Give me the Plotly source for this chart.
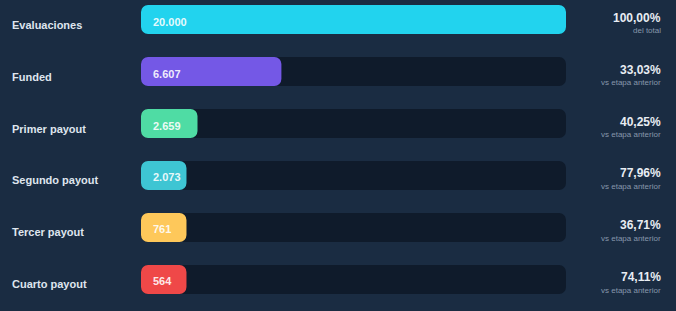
import plotly.graph_objects as go

stages = ["Evaluaciones", "Funded", "Primer payout", "Segundo payout", "Tercer payout", "Cuarto payout"]
values = [20000, 6607, 2659, 2073, 761, 564]
value_labels = ["20.000", "6.607", "2.659", "2.073", "761", "564"]
pct_labels = ["100,00%", "33,03%", "40,25%", "77,96%", "36,71%", "74,11%"]
pct_sub = ["del total", "vs etapa anterior", "vs etapa anterior", "vs etapa anterior", "vs etapa anterior", "vs etapa anterior"]
colors = ["#22d3ee", "#7458e6", "#4fdca4", "#3ec5d3", "#fec85a", "#ef4848"]

BG = "#1a2c42"
TRACK = "#0f1b2b"
FONT = "Liberation Sans, Arial, sans-serif"

total = max(values)
min_frac = 0.107
display = [max(v, total * min_frac) for v in values]

fig = go.Figure()
fig.add_trace(go.Bar(
    y=stages, x=[total] * len(stages), base=[0] * len(stages), orientation="h",
    marker=dict(color=TRACK, line=dict(width=0)), width=0.56,
    hoverinfo="skip", showlegend=False,
))
fig.add_trace(go.Bar(
    y=stages, x=display, base=[0] * len(stages), orientation="h",
    marker=dict(color=colors, line=dict(width=0)), width=0.56,
    customdata=values, hovertemplate="%{y}: %{customdata}<extra></extra>",
    showlegend=False,
))

ann = []
for i, s in enumerate(stages):
    ann.append(dict(x=0, y=s, xref="paper", yref="y", xanchor="left", yanchor="middle",
                    xshift=-131, yshift=-5, text="<b>%s</b>" % s, showarrow=False,
                    font=dict(family=FONT, size=11, color="#dfe5ee")))
    ann.append(dict(x=0, y=s, xref="x", yref="y", xanchor="left", yanchor="middle",
                    xshift=10, yshift=-2, text="<b>%s</b>" % value_labels[i], showarrow=False,
                    font=dict(family=FONT, size=11, color="rgba(255,255,255,0.9)")))
    ann.append(dict(x=1, y=s, xref="paper", yref="y", xanchor="right", yanchor="middle",
                    xshift=97, yshift=2, text="<b>%s</b>" % pct_labels[i], showarrow=False,
                    font=dict(family=FONT, size=12, color="#e8edf3")))
    ann.append(dict(x=1, y=s, xref="paper", yref="y", xanchor="right", yanchor="middle",
                    xshift=97, yshift=-11, text=pct_sub[i], showarrow=False,
                    font=dict(family=FONT, size=8, color="#8797ab")))

fig.update_layout(
    width=676, height=311,
    margin=dict(l=141, r=110, t=0, b=0),
    paper_bgcolor=BG, plot_bgcolor=BG,
    barmode="overlay", barcornerradius=7,
    xaxis=dict(range=[0, total], visible=False, fixedrange=True),
    yaxis=dict(range=[5.606, -0.375], visible=False, fixedrange=True),
    annotations=ann,
    font=dict(family=FONT),
)

fig.write_html("out.html")
